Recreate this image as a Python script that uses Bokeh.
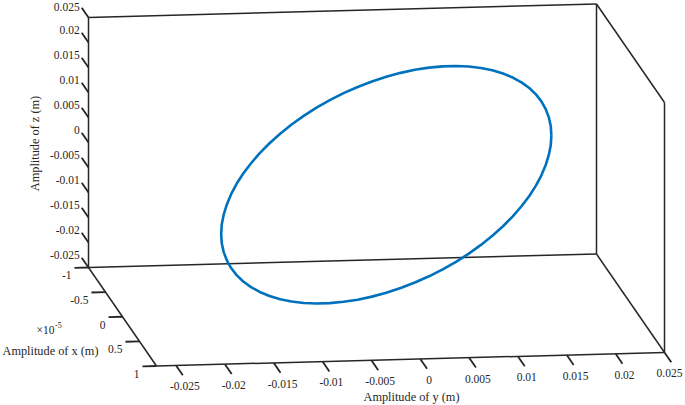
from bokeh.plotting import figure
from bokeh.models import Range1d
from bokeh.embed import file_html
from bokeh.resources import INLINE
from bokeh.core.properties import value
import math

# ---------------- data ----------------
X_LIM = [-1e-5, 1e-5]
Y_LIM = [-0.027, 0.025]
Z_LIM = [-0.025, 0.025]

X_TICKS = [-1e-5, -0.5e-5, 0.0, 0.5e-5, 1e-5]
X_TICK_LABELS = ["-1", "-0.5", "0", "0.5", "1"]
Y_TICKS = [-0.025, -0.02, -0.015, -0.01, -0.005, 0.0, 0.005, 0.01, 0.015, 0.02, 0.025]
Y_TICK_LABELS = ["-0.025", "-0.02", "-0.015", "-0.01", "-0.005", "0",
                 "0.005", "0.01", "0.015", "0.02", "0.025"]
Z_TICKS = [-0.025, -0.02, -0.015, -0.01, -0.005, 0.0, 0.005, 0.01, 0.015, 0.02, 0.025]
Z_TICK_LABELS = ["-0.025", "-0.02", "-0.015", "-0.01", "-0.005", "0",
                 "0.005", "0.01", "0.015", "0.02", "0.025"]

Y_CURVE = [0.0169, 0.01684, 0.01664, 0.01632, 0.01588, 0.01532, 0.01464, 0.01384, 0.01295,
           0.01195, 0.01086, 0.00969, 0.00845, 0.00714, 0.00578, 0.00437, 0.00293, 0.00147,
           0.0, -0.00147, -0.00293, -0.00437, -0.00578, -0.00714, -0.00845, -0.00969, -0.01086,
           -0.01195, -0.01295, -0.01384, -0.01464, -0.01532, -0.01588, -0.01632, -0.01664, -0.01684,
           -0.0169, -0.01684, -0.01664, -0.01632, -0.01588, -0.01532, -0.01464, -0.01384, -0.01295,
           -0.01195, -0.01086, -0.00969, -0.00845, -0.00714, -0.00578, -0.00437, -0.00293, -0.00147,
           0.0, 0.00147, 0.00293, 0.00437, 0.00578, 0.00714, 0.00845, 0.00969, 0.01086,
           0.01195, 0.01295, 0.01384, 0.01464, 0.01532, 0.01588, 0.01632, 0.01664, 0.01684]
Z_CURVE = [0.00899, 0.01084, 0.01261, 0.01428, 0.01584, 0.01728, 0.01859, 0.01976, 0.02077,
           0.02163, 0.02233, 0.02285, 0.02321, 0.02338, 0.02338, 0.02319, 0.02284, 0.02230,
           0.02160, 0.02074, 0.01971, 0.01854, 0.01722, 0.01578, 0.01421, 0.01254, 0.01077,
           0.00892, 0.00700, 0.00502, 0.00301, 0.00098, -0.00106, -0.00310, -0.00510, -0.00708,
           -0.00899, -0.01084, -0.01261, -0.01428, -0.01584, -0.01728, -0.01859, -0.01976, -0.02077,
           -0.02163, -0.02233, -0.02285, -0.02321, -0.02338, -0.02338, -0.02319, -0.02284, -0.02230,
           -0.02160, -0.02074, -0.01971, -0.01854, -0.01722, -0.01578, -0.01421, -0.01254, -0.01077,
           -0.00892, -0.00700, -0.00502, -0.00301, -0.00098, 0.00106, 0.00310, 0.00510, 0.00708]
X_CURVE = [0.0] * len(Y_CURVE)

X_LABEL = "Amplitude of x (m)"
Y_LABEL = "Amplitude of y (m)"
Z_LABEL = "Amplitude of z (m)"

# ---------------- projection (design canvas 685 x 405) ----------------
ORIGIN = (88.0, 267.0)
AX_X = (68.0, 98.5)
AX_Y = (508.0, -13.5)
AX_Z = (0.0, -250.0)


def proj(x, y, z):
    fx = (x - X_LIM[0]) / (X_LIM[1] - X_LIM[0])
    fy = (y - Y_LIM[0]) / (Y_LIM[1] - Y_LIM[0])
    fz = (z - Z_LIM[0]) / (Z_LIM[1] - Z_LIM[0])
    px = ORIGIN[0] + fx * AX_X[0] + fy * AX_Y[0] + fz * AX_Z[0]
    py = ORIGIN[1] + fx * AX_X[1] + fy * AX_Y[1] + fz * AX_Z[1]
    return px, py


FONT = "Liberation Serif"
INK = "#262626"

W, H = 685, 405
p = figure(width=W, height=H, x_range=Range1d(0, W), y_range=Range1d(H, 0),
           output_backend="svg", toolbar_location=None,
           x_axis_type=None, y_axis_type=None,
           min_border_left=0, min_border_right=0, min_border_top=0, min_border_bottom=0)
p.grid.visible = False
p.outline_line_color = None
p.background_fill_color = "white"
p.border_fill_color = "white"

x0, x1 = X_LIM
y0, y1 = Y_LIM
z0, z1 = Z_LIM
edges = [
    ((x0, y0, z0), (x0, y0, z1)),
    ((x0, y0, z1), (x0, y1, z1)),
    ((x0, y1, z0), (x0, y1, z1)),
    ((x0, y1, z1), (x1, y1, z1)),
    ((x1, y1, z0), (x1, y1, z1)),
    ((x0, y0, z0), (x0, y1, z0)),
    ((x0, y0, z0), (x1, y0, z0)),
    ((x1, y0, z0), (x1, y1, z0)),
    ((x0, y1, z0), (x1, y1, z0)),
]
exs, eys = [], []
for a, b in edges:
    pa, pb = proj(*a), proj(*b)
    exs.append([pa[0], pb[0]])
    eys.append([pa[1], pb[1]])
p.multi_line(exs, eys, line_color=INK, line_width=1.5)

txs, tys = [], []
# z ticks (left back vertical, pointing towards -x)
zl_x, zl_y, zl_t = [], [], []
for z, t in zip(Z_TICKS, Z_TICK_LABELS):
    a = proj(x0, y0, z)
    b = proj(x0 - 0.1 * (x1 - x0), y0, z)
    txs.append([a[0], b[0]]); tys.append([a[1], b[1]])
    zl_x.append(b[0] - 2); zl_y.append(max(b[1] - 3, 6.5)); zl_t.append(t)
# x ticks (left diagonal, pointing towards -y)
xl_x, xl_y, xl_t = [], [], []
for x, t in zip(X_TICKS, X_TICK_LABELS):
    a = proj(x, y0, z0)
    b = proj(x, y0 - 0.0276 * (y1 - y0), z0)
    txs.append([a[0], b[0]]); tys.append([a[1], b[1]])
    xl_x.append(b[0] - 3); xl_y.append(b[1] + 7.5); xl_t.append(t)
# y ticks (front bottom edge, pointing towards +x)
yl_x, yl_y, yl_t = [], [], []
for y, t in zip(Y_TICKS, Y_TICK_LABELS):
    a = proj(x1, y, z0)
    b = proj(x1 + 0.1 * (x1 - x0), y, z0)
    txs.append([a[0], b[0]]); tys.append([a[1], b[1]])
    yl_x.append(min(b[0] + 2, W - 16)); yl_y.append(b[1] + 11); yl_t.append(t)
p.multi_line(txs, tys, line_color=INK, line_width=1.8)

# curve
cx, cy = [], []
for x, y, z in zip(X_CURVE + X_CURVE[:1], Y_CURVE + Y_CURVE[:1], Z_CURVE + Z_CURVE[:1]):
    px, py = proj(x, y, z)
    cx.append(px); cy.append(py)
p.line(cx, cy, line_color="#0072BD", line_width=2.6, line_join="round")

TS = value("11.5px")
p.text(x=zl_x, y=zl_y, text=zl_t, text_font=value(FONT), text_font_size=TS,
       text_color=INK, text_align="right", text_baseline="middle")
p.text(x=xl_x, y=xl_y, text=xl_t, text_font=value(FONT), text_font_size=TS,
       text_color=INK, text_align="right", text_baseline="middle")
p.text(x=yl_x, y=yl_y, text=yl_t, text_font=value(FONT), text_font_size=TS,
       text_color=INK, text_align="center", text_baseline="middle")

LS = value("12.3px")
p.text(x=[411], y=[396], text=[Y_LABEL], text_font=value(FONT), text_font_size=LS,
       text_color=INK, text_align="center", text_baseline="middle")
p.text(x=[50], y=[350], text=[X_LABEL], text_font=value(FONT), text_font_size=LS,
       text_color=INK, text_align="center", text_baseline="middle")
p.text(x=[34], y=[143], text=[Z_LABEL], text_font=value(FONT), text_font_size=LS,
       text_color=INK, text_align="center", text_baseline="middle", angle=math.pi / 2)
p.text(x=[54], y=[329], text=["\u00d710"], text_font=value(FONT), text_font_size=value("11.5px"),
       text_color=INK, text_align="right", text_baseline="middle")
p.text(x=[54.5], y=[324], text=["-5"], text_font=value(FONT), text_font_size=value("8px"),
       text_color=INK, text_align="left", text_baseline="middle")

open("out.html", "w").write(file_html(p, INLINE))
